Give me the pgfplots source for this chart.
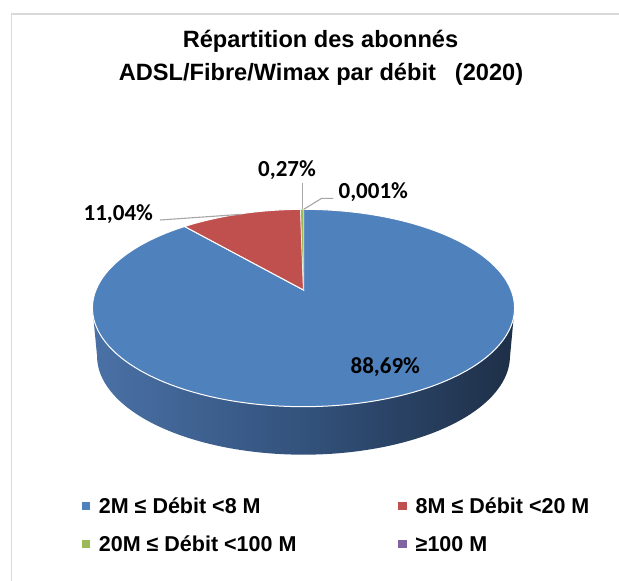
\documentclass[border=0pt]{standalone}
\usepackage{pgfplots}
\pgfplotsset{compat=1.18}
\usepackage{pgfplotstable}
\usepackage{fontspec}
\setmainfont{Liberation Sans}
\newfontfamily\labelfont{Carlito}
\definecolor{pblue}{HTML}{4F81BD}
\definecolor{pred}{HTML}{C0504D}
\definecolor{pgreen}{HTML}{9BBB59}
\definecolor{ppurple}{HTML}{8064A2}
\definecolor{sideL}{HTML}{4A71A6}
\definecolor{sideM}{HTML}{33527C}
\definecolor{sideR}{HTML}{1E2F47}
\definecolor{frame}{HTML}{D9D9D9}
\definecolor{leader}{HTML}{A6A6A6}

\pgfplotstableread{
cat value
a 88.69
b 11.04
c 0.27
d 0.001
}\pietable
\pgfplotstablegetelem{0}{value}\of\pietable \let\vA\pgfplotsretval
\pgfplotstablegetelem{1}{value}\of\pietable \let\vB\pgfplotsretval
\pgfplotstablegetelem{2}{value}\of\pietable \let\vC\pgfplotsretval
\pgfplotstablegetelem{3}{value}\of\pietable \let\vD\pgfplotsretval
\pgfmathsetmacro\aA{90}
\pgfmathsetmacro\aB{\aA-3.6*\vA}
\pgfmathsetmacro\aC{\aB-3.6*\vB}
\pgfmathsetmacro\aD{\aC-3.6*\vC}
\pgfmathsetmacro\aE{\aD-3.6*\vD}

% perspective projection of the pie rim
\def\cx{303.5}\def\cy{290}\def\sx{207.5}\def\sy{95.4}\def\pk{0.1824}

\begin{document}
\begin{tikzpicture}
\begin{axis}[
  width=619pt, height=581pt, scale only axis,
  xmin=0, xmax=619, ymin=0, ymax=581, y dir=reverse,
  hide axis, clip=false,
  legend columns=2,
  legend cell align=left,
  legend style={at={(axis cs:81.5,497)}, anchor=north west, draw=none, fill=none,
    inner sep=0pt, font=\fontsize{21.5}{25}\selectfont\bfseries,
    nodes={inner sep=0pt, text height=16pt, text depth=4pt},
    row sep=18pt,
    /tikz/every odd column/.append style={column sep=10pt},
    /tikz/every even column/.append style={column sep=102pt}},
  legend image code/.code={\draw[#1, mark=square*, mark size=3.6pt, mark options={draw=none}] plot coordinates {(3.6pt,1.5pt)};},
]
% frame
\addplot[forget plot, draw=frame, line width=1.4pt] coordinates {(11.7,581) (11.7,14) (619,14)};
% side of the pie
\addplot[forget plot, draw=none, left color=sideL, right color=sideR, middle color=sideM,
  domain=190.5:508.5, samples=319, variable=\t]
  ({\t<=349.5 ? \cx+\sx*cos(\t)/(1+\pk*sin(\t)) : \cx+203*cos(699-\t)/(1+\pk*sin(699-\t))},
   {\t<=349.5 ? \cy-\sy*sin(\t)/(1+\pk*sin(\t)) : \cy+48-\sy*sin(699-\t)/(1+\pk*sin(699-\t))}) -- cycle;
% slices
\addplot[forget plot, fill=pblue, draw=white, line width=1pt, domain=\aB:\aA, samples=240, variable=\t]
  ({\cx+\sx*cos(\t)/(1+\pk*sin(\t))}, {\cy-\sy*sin(\t)/(1+\pk*sin(\t))}) -- (axis cs:\cx,\cy) -- cycle;
\addplot[forget plot, fill=pred, draw=white, line width=1pt, domain=\aC:\aB, samples=40, variable=\t]
  ({\cx+\sx*cos(\t)/(1+\pk*sin(\t))}, {\cy-\sy*sin(\t)/(1+\pk*sin(\t))}) -- (axis cs:\cx,\cy) -- cycle;
\addplot[forget plot, fill=pgreen, draw=white, line width=0.3pt, domain=\aD:\aC, samples=5, variable=\t]
  ({\cx+\sx*cos(\t)/(1+\pk*sin(\t))}, {\cy-\sy*sin(\t)/(1+\pk*sin(\t))}) -- (axis cs:\cx,\cy) -- cycle;
\addplot[forget plot, fill=ppurple, draw=none, domain=\aE:\aD, samples=2, variable=\t]
  ({\cx+\sx*cos(\t)/(1+\pk*sin(\t))}, {\cy-\sy*sin(\t)/(1+\pk*sin(\t))}) -- (axis cs:\cx,\cy) -- cycle;
% leader lines
\addplot[forget plot, draw=leader, line width=1.1pt] coordinates {(160,220) (241.7,214.3)};
\addplot[forget plot, draw=leader, line width=1.1pt] coordinates {(302.7,183.3) (302.7,209.3)};
\addplot[forget plot, draw=leader, line width=1.1pt] coordinates {(303.8,209.3) (321.7,198.3) (333.3,198.3)};
% data labels
\node[anchor=base, font=\labelfont\bfseries\fontsize{23}{27}\selectfont] at (axis cs:118.3,220) {11,04\%};
\node[anchor=base, font=\labelfont\bfseries\fontsize{23}{27}\selectfont] at (axis cs:287,176.7) {0,27\%};
\node[anchor=base, font=\labelfont\bfseries\fontsize{23}{27}\selectfont] at (axis cs:373.3,198.3) {0,001\%};
\node[anchor=base, font=\labelfont\bfseries\fontsize{23}{27}\selectfont] at (axis cs:385.3,373.3) {88,69\%};
% title
\node[anchor=base, font=\bfseries\fontsize{23.6}{28}\selectfont] at (axis cs:320.5,47) {Répartition des abonnés};
\node[anchor=base, font=\bfseries\fontsize{23.6}{28}\selectfont] at (axis cs:321,80) {ADSL/Fibre/Wimax par débit\hspace{19pt}(2020)};
% legend
\addlegendimage{color=pblue}
\addlegendentry{2M ≤ Débit <8 M}
\addlegendimage{color=pred}
\addlegendentry{8M ≤ Débit <20 M}
\addlegendimage{color=pgreen}
\addlegendentry{20M ≤ Débit <100 M}
\addlegendimage{color=ppurple}
\addlegendentry{≥100 M}
\end{axis}
\pgfresetboundingbox
\path (current axis.south west) rectangle (current axis.north east);
\end{tikzpicture}
\end{document}
